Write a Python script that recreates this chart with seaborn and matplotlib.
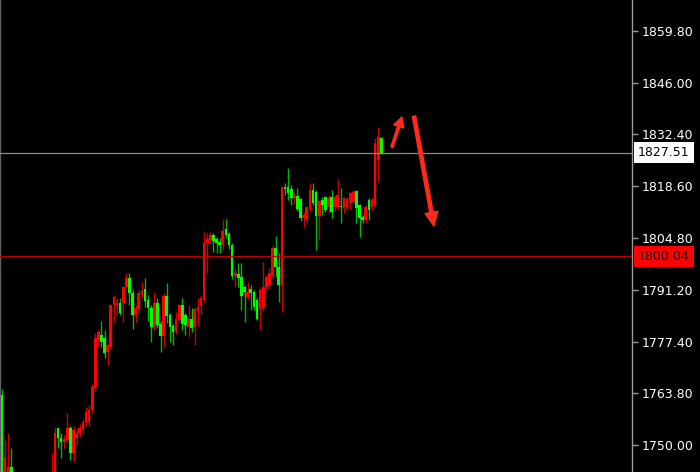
import numpy as np
import pandas as pd
import seaborn as sns
import matplotlib
matplotlib.use("Agg")
import matplotlib.pyplot as plt
from matplotlib import transforms

# OHLC candles, oldest first
opens = [1763.2, 1742.0, 1741.7, 1744.1, 1742.0, 1737.0, 1735.0, 1737.0, 1735.0, 1732.0,
         1735.0, 1738.0, 1736.0, 1737.0, 1740.0, 1738.0, 1738.0, 1740.0, 1754.5, 1751.8,
         1750.8, 1751.3, 1754.5, 1747.9, 1751.8, 1753.2, 1754.2, 1755.8, 1756.1, 1759.3,
         1765.1, 1777.8, 1779.1, 1778.4, 1774.6, 1776.0, 1787.1, 1787.1, 1787.6, 1787.6,
         1791.9, 1794.3, 1790.3, 1784.5, 1786.0, 1789.8, 1791.4, 1788.4, 1786.3, 1781.3,
         1787.6, 1782.1, 1778.9, 1789.5, 1784.5, 1781.5, 1780.2, 1783.1, 1787.1, 1784.5,
         1781.3, 1783.4, 1781.3, 1785.5, 1786.8, 1788.4, 1803.6, 1804.3, 1805.7, 1804.6,
         1803.8, 1803.0, 1807.3, 1805.9, 1803.0, 1794.8, 1795.3, 1794.5, 1791.9, 1789.2,
         1791.4, 1790.6, 1788.4, 1786.0, 1786.3, 1791.9, 1792.4, 1794.8, 1802.2, 1797.2,
         1792.4, 1818.4, 1818.4, 1817.9, 1815.5, 1816.0, 1815.2, 1810.2, 1809.7, 1812.6,
         1817.6, 1817.1, 1810.7, 1815.0, 1815.8, 1813.1, 1815.8, 1813.1, 1813.1, 1813.4,
         1812.8, 1813.1, 1814.2, 1814.4, 1817.4, 1813.6, 1810.5, 1809.7, 1815.0, 1813.1,
         1813.6, 1825.6, 1831.4]
highs = [1764.8, 1751.3, 1753.2, 1749.2, 1742.5, 1739.0, 1738.0, 1740.0, 1737.0, 1736.0,
         1739.0, 1741.0, 1738.0, 1741.0, 1742.0, 1741.5, 1747.9, 1754.7, 1754.7, 1753.2,
         1752.6, 1758.5, 1755.0, 1755.0, 1754.0, 1755.5, 1757.0, 1760.0, 1760.6, 1766.2,
         1779.7, 1780.5, 1782.9, 1780.5, 1777.0, 1787.5, 1789.8, 1789.0, 1789.0, 1792.2,
         1795.6, 1795.6, 1791.0, 1787.0, 1791.0, 1793.2, 1794.3, 1789.8, 1787.0, 1790.6,
         1789.0, 1783.0, 1790.3, 1792.9, 1785.0, 1782.0, 1785.3, 1787.5, 1789.0, 1785.0,
         1787.1, 1786.3, 1786.5, 1789.0, 1789.7, 1806.5, 1806.2, 1806.5, 1806.2, 1805.2,
         1804.9, 1809.9, 1809.9, 1806.5, 1803.5, 1796.9, 1798.3, 1798.3, 1792.5, 1793.2,
         1792.4, 1791.0, 1789.0, 1791.6, 1798.5, 1795.0, 1796.9, 1803.0, 1805.4, 1800.9,
         1818.8, 1819.5, 1823.4, 1819.0, 1817.0, 1818.2, 1815.5, 1811.8, 1813.5, 1819.5,
         1819.5, 1817.5, 1815.0, 1815.8, 1816.0, 1816.3, 1817.6, 1816.3, 1820.5, 1818.2,
         1815.8, 1815.8, 1817.1, 1817.6, 1817.6, 1814.0, 1811.0, 1813.6, 1815.5, 1815.8,
         1831.4, 1834.3, 1831.7]
lows = [1736.0, 1740.0, 1739.0, 1740.0, 1736.0, 1733.0, 1731.0, 1734.0, 1730.0, 1729.0,
        1733.0, 1734.0, 1732.0, 1735.0, 1736.0, 1735.0, 1735.0, 1738.0, 1749.2, 1746.5,
        1749.2, 1750.5, 1746.0, 1745.5, 1750.0, 1752.0, 1753.0, 1755.0, 1755.0, 1758.5,
        1764.0, 1776.0, 1776.0, 1773.0, 1771.2, 1775.5, 1782.6, 1784.5, 1784.5, 1782.6,
        1791.6, 1787.1, 1780.8, 1782.6, 1785.0, 1789.0, 1786.6, 1782.9, 1777.3, 1780.5,
        1781.0, 1774.6, 1776.0, 1782.3, 1777.3, 1776.5, 1779.5, 1782.5, 1780.5, 1779.2,
        1778.6, 1780.0, 1776.5, 1781.5, 1784.5, 1788.0, 1795.6, 1803.5, 1801.2, 1800.9,
        1800.9, 1801.7, 1805.0, 1802.0, 1794.0, 1791.9, 1791.9, 1785.8, 1782.6, 1788.4,
        1785.8, 1785.8, 1783.1, 1780.5, 1785.5, 1791.1, 1791.5, 1794.0, 1794.5, 1787.9,
        1785.3, 1816.3, 1815.0, 1813.6, 1814.0, 1812.0, 1809.5, 1807.8, 1809.0, 1812.0,
        1813.6, 1801.7, 1804.4, 1811.0, 1811.8, 1811.5, 1810.2, 1812.0, 1812.6, 1808.9,
        1811.5, 1812.3, 1812.6, 1814.0, 1808.9, 1805.2, 1808.9, 1808.9, 1809.7, 1812.3,
        1813.1, 1819.8, 1827.2]
closes = [1739.0, 1746.8, 1744.1, 1742.3, 1737.0, 1735.0, 1737.0, 1735.0, 1732.0, 1735.0,
          1738.0, 1736.0, 1737.0, 1740.0, 1738.0, 1739.0, 1741.0, 1753.2, 1751.8, 1750.8,
          1751.6, 1754.5, 1747.9, 1754.0, 1753.2, 1754.5, 1756.1, 1758.7, 1759.3, 1765.4,
          1778.4, 1779.9, 1777.3, 1774.4, 1776.5, 1787.1, 1789.2, 1787.6, 1785.0, 1791.9,
          1794.3, 1790.3, 1784.5, 1786.3, 1790.3, 1790.8, 1788.2, 1786.3, 1781.3, 1787.6,
          1781.8, 1778.9, 1789.5, 1784.2, 1781.3, 1779.9, 1783.4, 1787.1, 1782.1, 1781.8,
          1783.4, 1781.0, 1786.0, 1786.6, 1788.9, 1803.6, 1804.6, 1805.7, 1804.1, 1803.6,
          1803.0, 1806.7, 1805.7, 1803.0, 1794.8, 1795.6, 1794.3, 1789.5, 1790.6, 1790.6,
          1790.3, 1786.6, 1783.4, 1791.1, 1791.9, 1794.5, 1795.6, 1802.2, 1797.2, 1792.4,
          1818.4, 1817.9, 1816.8, 1815.5, 1816.0, 1812.6, 1810.2, 1811.0, 1813.1, 1817.6,
          1814.2, 1810.7, 1814.7, 1813.6, 1812.3, 1815.5, 1811.8, 1815.8, 1816.3, 1813.1,
          1815.5, 1815.2, 1816.8, 1817.1, 1812.8, 1810.2, 1809.7, 1813.1, 1812.3, 1815.0,
          1830.1, 1831.7, 1827.51]

# Right-hand price scale
price_ticks = [1750.00, 1763.80, 1777.40, 1791.20, 1804.80, 1818.60, 1832.40, 1846.00, 1859.80]
current_price = 1827.51
level_price = 1800.04

UP_BODY, DOWN_BODY = "#ff0000", "#00ff00"
UP_WICK, DOWN_WICK = "#c80000", "#00b800"

sns.set_theme(style="dark")
plt.rcParams["font.family"] = ["DejaVu Sans"]

df = pd.DataFrame({"open": opens, "high": highs, "low": lows, "close": closes})
df["bar"] = np.arange(len(df))
df["rising"] = df["close"] >= df["open"]

fig = plt.figure(figsize=(7.0, 4.72), dpi=100, facecolor="black")
ax = fig.add_axes([0.0, 0.0, 632 / 700, 1.0])
ax.set_facecolor("black")
ax.grid(False)

# wicks
ax.vlines(df["bar"], df["low"], df["high"],
          colors=np.where(df["rising"], UP_WICK, DOWN_WICK), linewidth=1.0, zorder=2)
# bodies
body_low = np.minimum(df["open"], df["close"])
body_h = (df["close"] - df["open"]).abs().clip(lower=0.3)
ax.bar(df["bar"], body_h, bottom=body_low, width=0.86,
       color=np.where(df["rising"], UP_BODY, DOWN_BODY), linewidth=0, zorder=3)

# price levels
ax.axhline(current_price, color="#8a8a8a", linewidth=0.9, zorder=4)
ax.axhline(level_price, color="#c00000", linewidth=0.9, zorder=4)

ax.set_xlim(-0.64, 202.6)
ax.set_ylim(1742.84, 1868.02)
ax.set_xticks([])
ax.set_yticks(price_ticks)
ax.set_yticklabels([f"{v:.2f}" for v in price_ticks])
ax.yaxis.tick_right()
ax.tick_params(axis="y", which="major", right=True, left=False, length=4, width=1,
               color="#9a9a9a", labelcolor="white", labelsize=9, pad=3)

for side in ("top", "bottom"):
    ax.spines[side].set_visible(False)
ax.spines["right"].set_color("#9a9a9a")
ax.spines["right"].set_linewidth(1.0)
ax.spines["left"].set_color("#606060")
ax.spines["left"].set_linewidth(1.0)

# boxed price tags on the scale
tag = transforms.blended_transform_factory(ax.transAxes, ax.transData)
ax.text(1.0 + 6 / 632, current_price, f"{current_price:.2f}", transform=tag,
        ha="left", va="center", fontsize=9, color="black", clip_on=False, zorder=6,
        bbox=dict(boxstyle="square,pad=0.32", fc="white", ec="none"))
ax.text(1.0 + 6 / 632, level_price, f"{level_price:.2f}", transform=tag,
        ha="left", va="center", fontsize=9, color="#1a0000", clip_on=False, zorder=6,
        bbox=dict(boxstyle="square,pad=0.32", fc="#ff0000", ec="none"))

# hand-drawn style direction arrows
ax.annotate("", xy=(128.6, 1837.0), xytext=(125.4, 1829.0),
            arrowprops=dict(arrowstyle="simple,head_length=0.8,head_width=0.85,tail_width=0.18",
                            color="#ff2a1a", mutation_scale=9, shrinkA=0, shrinkB=0), zorder=7)
ax.annotate("", xy=(138.9, 1808.1), xytext=(132.5, 1837.2),
            arrowprops=dict(arrowstyle="simple,head_length=0.9,head_width=0.85,tail_width=0.22",
                            color="#ff2a1a", mutation_scale=11, shrinkA=0, shrinkB=0), zorder=7)

fig.savefig("out.png", dpi=100, facecolor="black")
